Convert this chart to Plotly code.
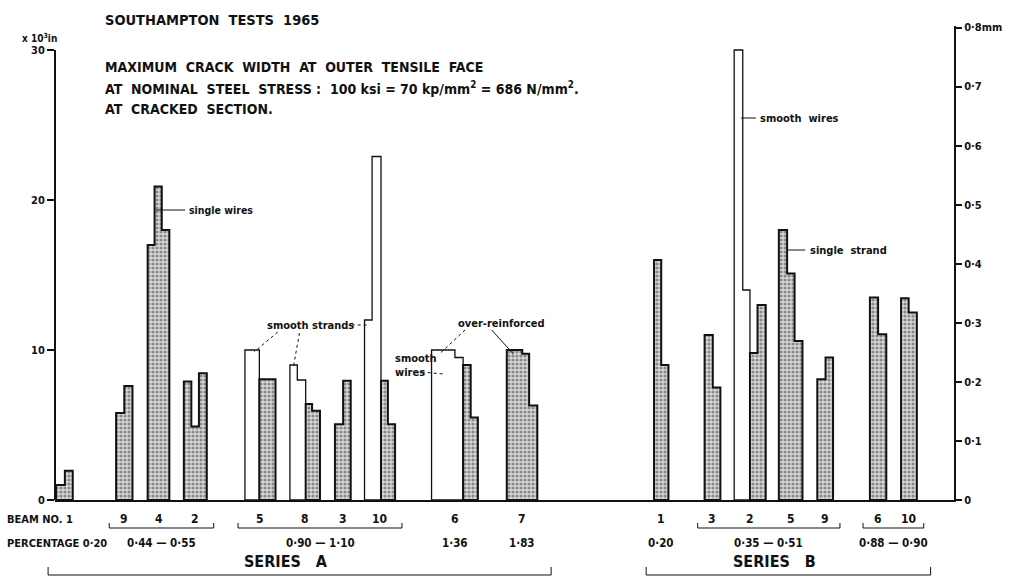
import plotly.graph_objects as go

# ---------------- data (crack widths in 10^-3 in) ----------------
BEAMS_A = ["1", "9", "4", "2", "5", "8", "3", "10", "6", "7"]
BEAMS_B = ["1", "3", "2", "5", "9", "6", "10"]

# successive step heights of each beam's profile: smooth reinforcement (open) then deformed (stippled)
SMOOTH_A = [[], [], [], [], [10.0], [9.0, 8.0], [], [12.0, 22.9], [10.0, 9.5], []]
DEFORMED_A = [[1.0, 1.95], [5.8, 7.6], [17.0, 20.9, 18.0], [7.9, 4.9, 8.45], [8.05],
              [6.4, 5.95], [5.05, 7.95], [7.95, 5.05], [9.0, 5.5], [10.0, 9.75, 6.3]]
SMOOTH_B = [[], [], [30.0, 14.0], [], [], [], []]
DEFORMED_B = [[16.0, 9.0], [11.0, 7.5], [9.8, 13.0], [18.0, 15.1, 10.6], [8.05, 9.5],
              [13.5, 11.05], [13.45, 12.5]]

# steel percentage groups: (label, first beam index, last beam index, bracket)
PCT_A = [("0·20", 0, 0, False), ("0·44 — 0·55", 1, 3, True), ("0·90 — 1·10", 4, 7, True),
         ("1·36", 8, 8, False), ("1·83", 9, 9, False)]
PCT_B = [("0·20", 0, 0, False), ("0·35 — 0·51", 1, 4, True), ("0·88 — 0·90", 5, 6, True)]

MM_TICKS = [0, 0.1, 0.2, 0.3, 0.4, 0.5, 0.6, 0.7, 0.8]
IN_TICKS = [0, 10, 20, 30]

# ---------------- layout (horizontal placement, x-axis units) ----------------
X0_A = [1, 62, 94, 130.7, 192.7, 238.3, 284, 314, 382, 458.3]
X0_B = [607.7, 659, 689, 734.3, 773.3, 826.7, 858.3]
W_SMOOTH_A = [[], [], [], [], [14.6], [7.5, 8.5], [], [7.7, 9.0], [23.7, 8.3], []]
W_DEF_A = [[9, 8], [8.3, 8.3], [7, 7.3, 7.7], [7.6, 7.7, 8], [16.4], [6.5, 8], [8.3, 7.7],
           [7, 7.3], [7.7, 7.3], [15.7, 7, 8.3]]
W_SMOOTH_B = [[], [], [8.7, 7.3], [], [], [], []]
W_DEF_B = [[7.3, 7.3], [8.3, 7.7], [7.7, 8.3], [8.4, 7.6, 8], [8.4, 7.6], [8.3, 8.3], [7.7, 8.3]]

XMAX = 912.0
YMAX = 31.6
FONT = "DejaVu Sans Condensed, DejaVu Sans, sans-serif"
INK = "#111111"


def px(x):  # reference-pixel -> x units
    return x - 55.0


def py(y):  # reference-pixel -> y units (10^-3 in)
    return (500.0 - y) / 15.0


def pap_x(u):
    return u / XMAX


def pap_y(v):
    return v / YMAX


def profile(x0, widths, heights):
    xs, ys, x = [x0], [0], x0
    for w, h in zip(widths, heights):
        xs += [x, x + w]
        ys += [h, h]
        x += w
    xs += [x, x0]
    ys += [0, 0]
    return xs, ys, x


fig = go.Figure()
spans_A, spans_B = [], []


def add_beams(x0s, smooth, wsm, deformed, wdf, spans):
    for i in range(len(x0s)):
        x = x0s[i]
        start = x
        if smooth[i]:
            xs, ys, x = profile(x, wsm[i], smooth[i])
            fig.add_trace(go.Scatter(x=xs, y=ys, mode="lines", fill="toself",
                                     fillcolor="white", line=dict(color=INK, width=1.3),
                                     hoverinfo="skip", showlegend=False))
        if deformed[i]:
            xs, ys, x = profile(x, wdf[i], deformed[i])
            fig.add_trace(go.Scatter(x=xs, y=ys, mode="lines", fill="toself",
                                     fillcolor="#c4c4c4",
                                     fillpattern=dict(shape=".", fgcolor="#3a3a3a",
                                                      bgcolor="#d8d8d8", size=4, solidity=0.5),
                                     line=dict(color=INK, width=2),
                                     hoverinfo="skip", showlegend=False))
        spans.append((start, x))


add_beams(X0_A, SMOOTH_A, W_SMOOTH_A, DEFORMED_A, W_DEF_A, spans_A)
add_beams(X0_B, SMOOTH_B, W_SMOOTH_B, DEFORMED_B, W_DEF_B, spans_B)

# dummy trace so the mm axis is drawn
fig.add_trace(go.Scatter(x=[], y=[], yaxis="y2", showlegend=False))

ann = []
shapes = []


def text(x, y, s, size=12, anchor="left", yanchor="middle", align="left"):
    ann.append(dict(x=pap_x(x), y=pap_y(y), xref="paper", yref="paper", text=s,
                    showarrow=False, xanchor=anchor, yanchor=yanchor, align=align,
                    font=dict(family=FONT, size=size, color=INK, weight="bold")))


def line(x1, y1, x2, y2, dash="solid", width=1.2):
    shapes.append(dict(type="line", xref="paper", yref="paper",
                       x0=pap_x(x1), y0=pap_y(y1), x1=pap_x(x2), y1=pap_y(y2),
                       line=dict(color=INK, width=width, dash=dash)))


# titles
text(px(104), py(20), "SOUTHAMPTON  TESTS  1965", size=14.5)
text(px(104), py(67), "MAXIMUM  CRACK  WIDTH  AT  OUTER  TENSILE  FACE", size=14)
text(px(104), py(88), "AT  NOMINAL  STEEL  STRESS :  100 ksi = 70 kp/mm<sup>2</sup> = 686 N/mm<sup>2</sup>.", size=14)
text(px(104), py(109), "AT  CRACKED  SECTION.", size=14)
text(px(20), py(38), "x 10<sup>3</sup>in", size=10)

# left axis line (0 to 30)
line(0, 0, 0, 30, width=2)

# beam number row
text(px(4), py(519), "BEAM NO. " + BEAMS_A[0], size=11)
for lab, (a, b) in list(zip(BEAMS_A, spans_A))[1:] + list(zip(BEAMS_B, spans_B)):
    text((a + b) / 2, py(519), lab, size=12, anchor="center")

# percentage row
text(px(4), py(543), "PERCENTAGE " + PCT_A[0][0], size=11)


def pct(groups, spans, skip_first):
    for k, (lab, i, j, br) in enumerate(groups):
        a, b = spans[i][0], spans[j][1]
        if not (skip_first and k == 0):
            text((a + b) / 2, py(543), lab, size=11.5, anchor="center")
        if br:
            l, r = a - 7, b + 7
            line(l, py(528), r, py(528), width=1)
            line(l, py(528), l, py(523), width=1)
            line(r, py(528), r, py(523), width=1)


pct(PCT_A, spans_A, True)
pct(PCT_B, spans_B, False)

# series brackets
for name, spans in (("SERIES   A", spans_A), ("SERIES   B", spans_B)):
    l, r = spans[0][0] - 8, spans[-1][1] + 14
    text((l + r) / 2 - 14, py(561), name, size=16, anchor="center")
    line(l, py(575), r, py(575), width=1)
    line(l, py(575), l, py(567), width=1)
    line(r, py(575), r, py(567), width=1)

# callouts
text(px(189), py(210), "single wires", size=10.5)
line(px(157), py(210), px(187), py(210), width=1)
line(px(163), py(205), px(163), py(215), width=1)

text(px(268), py(325), "smooth strands", size=11)
line(px(281), py(332), px(257), py(352), dash="dot", width=1)
line(px(303), py(333), px(297), py(366), dash="dot", width=1)
line(px(356), py(325), px(372), py(325), dash="dot", width=1)

text(px(462), py(323), "over-reinforced", size=11)
line(px(471), py(330), px(446), py(353), dash="dot", width=1)
line(px(498), py(330), px(520), py(354), width=1)

text(px(398), py(365), "smooth<br>wires", size=11)
line(px(427), py(372), px(449), py(374), dash="dot", width=1)

text(px(768), py(118), "smooth  wires", size=11)
line(px(751), py(118), px(766), py(118), width=1)
text(px(819), py(250), "single  strand", size=11)
line(px(797), py(250), px(816), py(250), width=1)

fig.update_layout(
    width=1014, height=581,
    margin=dict(l=55, r=47, t=26, b=81),
    paper_bgcolor="white", plot_bgcolor="white",
    showlegend=False,
    annotations=ann, shapes=shapes,
    xaxis=dict(range=[0, XMAX], showgrid=False, zeroline=False, showticklabels=False,
               ticks="", showline=True, linecolor=INK, linewidth=2, fixedrange=True),
    yaxis=dict(range=[0, YMAX], tickvals=IN_TICKS, ticks="outside", ticklen=7,
               tickwidth=1.5, tickcolor=INK, showgrid=False, zeroline=False,
               showline=False,
               tickfont=dict(family=FONT, size=11, color=INK, weight="bold")),
    yaxis2=dict(range=[0, YMAX * 0.0254], overlaying="y", side="right",
                tickvals=MM_TICKS,
                ticktext=["0"] + [("%.1f" % v).replace(".", "·") for v in MM_TICKS[1:-1]] + ["0·8mm"],
                ticks="outside", ticklen=6, tickwidth=1.5, tickcolor=INK,
                showline=True, linecolor=INK, linewidth=2, showgrid=False, zeroline=False,
                tickfont=dict(family=FONT, size=11, color=INK, weight="bold")),
)

fig.write_html("out.html", config={"displayModeBar": False},
               post_script="document.body.style.margin='0px';")
